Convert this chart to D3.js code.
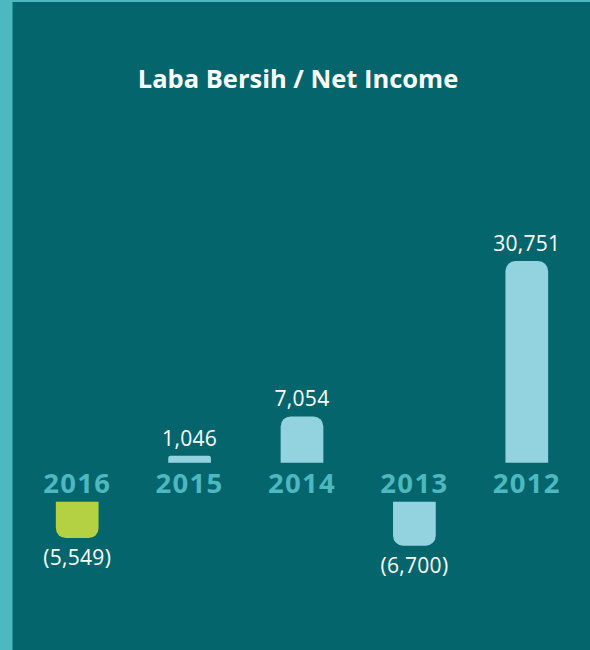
<!DOCTYPE html>
<html>
<head>
<meta charset="utf-8">
<script src="https://cdn.jsdelivr.net/npm/d3@7"></script>
<style>
    body { margin: 0; background: #04666c; }
    svg { display: block; }
</style>
</head>
<body>
<div id="chart"></div>
<script>
// chart data (Rp juta)
var years = ["2016", "2015", "2014", "2013", "2012"];
var netIncome = [-5549, 1046, 7054, -6700, 30751];
var valueLabels = ["(5,549)", "1,046", "7,054", "(6,700)", "30,751"];
var barColors = ["#b3d143", "#93d2df", "#93d2df", "#93d2df", "#93d2df"];
var chartTitle = "Laba Bersih / Net Income";

function init() {
    var w = 590;
    var h = 650;
    var posBase = 462.7;   // baseline for positive bars
    var negBase = 501.7;   // baseline for negative bars (below year labels)

    var svg = d3.select("#chart")
        .append("svg")
        .attr("width", w)
        .attr("height", h);

    // background + stripes
    svg.append("rect").attr("width", w).attr("height", h).attr("fill", "#04666c");
    svg.append("rect").attr("width", w).attr("height", 2).attr("fill", "#4db8c0");
    svg.append("rect").attr("width", 12.5).attr("height", h).attr("fill", "#4db8c0");

    svg.append("text")
        .attr("x", 298)
        .attr("y", 88)
        .attr("text-anchor", "middle")
        .attr("fill", "#ffffff")
        .style("font-family", "'Open Sans', sans-serif")
        .style("font-weight", 700)
        .style("font-size", "25.5px")
        .text(chartTitle);

    var xScale = d3.scaleBand()
        .domain(years)
        .range([21, 583])
        .paddingInner(0.62)
        .paddingOuter(0.31);

    var hScale = d3.scaleLinear()
        .domain([0, d3.max(netIncome, function (d) { return Math.abs(d); })])
        .range([0, 201.7]);

    var data = years.map(function (y, i) {
        return { year: y, value: netIncome[i], label: valueLabels[i], color: barColors[i] };
    });

    // bar path with rounded corners on the outer end
    function barPath(d) {
        var x0 = xScale(d.year);
        var bw = xScale.bandwidth();
        var bh = hScale(Math.abs(d.value));
        var r = Math.min(10, bh / 3);
        var p = d3.path();
        if (d.value >= 0) {
            var top = posBase - bh;
            p.moveTo(x0, posBase);
            p.lineTo(x0, top + r);
            p.arcTo(x0, top, x0 + r, top, r);
            p.lineTo(x0 + bw - r, top);
            p.arcTo(x0 + bw, top, x0 + bw, top + r, r);
            p.lineTo(x0 + bw, posBase);
        } else {
            var bot = negBase + bh;
            p.moveTo(x0, negBase);
            p.lineTo(x0, bot - r);
            p.arcTo(x0, bot, x0 + r, bot, r);
            p.lineTo(x0 + bw - r, bot);
            p.arcTo(x0 + bw, bot, x0 + bw, bot - r, r);
            p.lineTo(x0 + bw, negBase);
        }
        p.closePath();
        return p.toString();
    }

    svg.selectAll(".bar")
        .data(data)
        .enter()
        .append("path")
        .attr("class", "bar")
        .attr("fill", function (d) { return d.color; })
        .attr("d", barPath);

    // year labels between the two baselines
    svg.selectAll(".year")
        .data(data)
        .enter()
        .append("text")
        .attr("class", "year")
        .attr("x", function (d) { return xScale(d.year) + xScale.bandwidth() / 2; })
        .attr("y", 493)
        .attr("text-anchor", "middle")
        .attr("fill", "#4db8c0")
        .style("font-family", "'Open Sans', sans-serif")
        .style("font-weight", 700)
        .style("font-size", "27.5px")
        .style("letter-spacing", "1.3px")
        .text(function (d) { return d.year; });

    svg.selectAll(".value")
        .data(data)
        .enter()
        .append("text")
        .attr("class", "value")
        .attr("x", function (d) { return xScale(d.year) + xScale.bandwidth() / 2; })
        .attr("y", function (d) {
            var bh = hScale(Math.abs(d.value));
            return d.value >= 0 ? posBase - bh - 10 : negBase + bh + 27;
        })
        .attr("text-anchor", "middle")
        .attr("fill", "#ffffff")
        .style("font-family", "'Open Sans', sans-serif")
        .style("font-size", "21px")
        .style("letter-spacing", "0.3px")
        .text(function (d) { return d.label; });
}

window.onload = init;
</script>
</body>
</html>
